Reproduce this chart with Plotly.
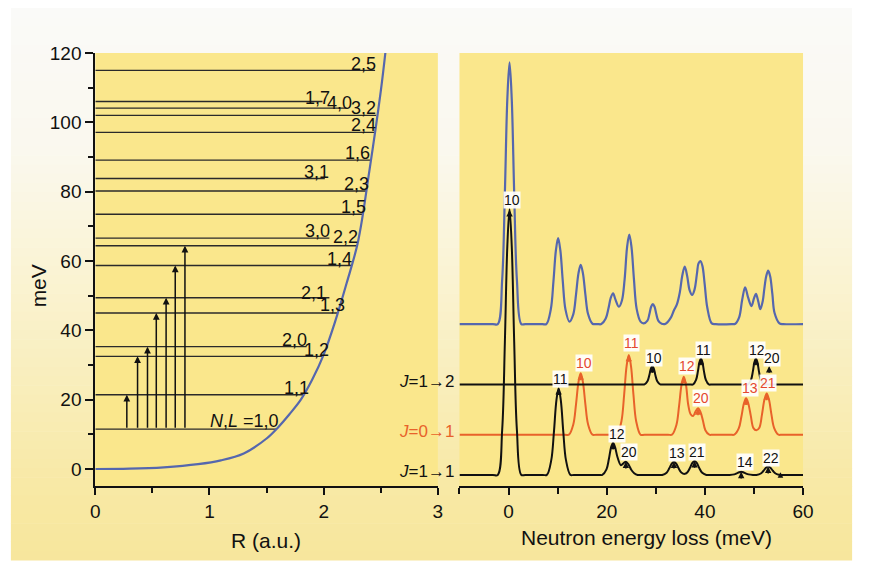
import plotly.graph_objects as go

# ---------------- Left panel data ----------------
level_labels = ["<i>N</i>,<i>L</i> =1,0", "1,1", "1,2", "2,0", "1,3", "2,1", "1,4", "2,2", "3,0",
                "1,5", "2,3", "3,1", "1,6", "2,4", "3,2", "4,0", "1,7", "2,5"]
level_energy = [11.5, 21.4, 32.5, 35.3, 45.0, 49.4, 58.7, 64.4, 66.6,
                73.5, 80.2, 83.8, 89.1, 97.1, 102.0, 104.1, 106.0, 115.0]
level_rmax = [1.59, 1.82, 1.99, 1.85, 2.12, 2.05, 2.24, 2.29, 2.05,
              2.34, 2.37, 2.01, 2.41, 2.45, 2.46, 2.20, 1.99, 2.45]
label_r = [1.304, 1.765, 1.937, 1.741, 2.073, 1.914, 2.138, 2.188, 1.944,
           2.259, 2.289, 1.937, 2.297, 2.345, 2.345, 2.138, 1.948, 2.345]
label_e = [13.9, 23.4, 34.3, 37.2, 47.3, 50.8, 60.6, 66.8, 68.7,
           75.6, 82.3, 85.7, 91.2, 99.3, 104.2, 105.6, 107.1, 116.9]

pot_r = [0, 0.3, 0.6, 0.9, 1.1, 1.3, 1.5, 1.6, 1.7, 1.8, 1.9, 2.0, 2.1, 2.2, 2.3, 2.4, 2.5, 2.54]
pot_v = [0, 0.1, 0.5, 1.4, 2.5, 4.5, 8.8, 12.0, 15.8, 20.0, 25.8, 33.0, 42.5, 53.5, 65.5, 86.0, 109.0, 120.0]

arrow_r = [0.276, 0.37, 0.457, 0.534, 0.62, 0.70, 0.785]
arrow_top = [21.4, 32.5, 35.3, 45.0, 49.4, 58.7, 64.4]
arrow_base = 11.5

# ---------------- Right panel data ----------------
blue_x = [-10, -3.2, -2.2, -1.3, -0.75, -0.25, 0.2, 0.65, 1.15, 1.7, 2.6, 3.4,
          6.9, 7.7, 8.6, 9.15, 9.65, 10.1, 10.55, 11.05, 11.6, 12.4,
          13.2, 13.75, 14.25, 14.7, 15.15, 15.65, 16.2, 17.1, 17.9,
          18.2, 18.9, 19.8, 20.35, 20.85, 21.3, 21.75, 22.5, 23.1, 23.65, 24.15, 24.6, 25.05, 25.55, 26.1, 26.9, 27.5,
          28.3, 28.7, 29.05, 29.4, 29.75, 30.1, 30.5, 31.2, 32.0,
          33.0, 33.7, 34.3, 34.9, 35.4, 35.9, 36.4, 36.9, 37.4, 37.9, 38.4, 38.7, 39.1, 39.5, 39.95, 40.5, 41.4, 42.2,
          45.4, 46.2, 47.0, 47.6, 48.2, 48.8, 49.5, 50.0, 50.4, 50.85, 51.3, 51.8, 52.1, 52.5, 52.9, 53.3, 53.75, 54.2, 55.2, 56.0, 60]
blue_y = [41.8, 41.8, 41.8, 54.6, 79.6, 106.7, 117.3, 106.7, 79.6, 54.6, 41.8, 41.8,
          41.8, 41.8, 46.0, 54.2, 63.1, 66.6, 63.1, 54.2, 46.0, 42.5,
          44.7, 50.4, 56.5, 58.9, 56.5, 50.4, 44.7, 41.9, 41.8,
          41.8, 41.8, 43.4, 46.3, 49.5, 50.7, 49.0, 46.8, 48.6, 54.7, 64.0, 67.6, 64.0, 54.7, 46.2, 42.5, 42.0,
          42.8, 44.7, 46.8, 47.6, 46.8, 44.7, 42.8, 41.9, 41.9,
          43.5, 45.8, 47.5, 51.0, 55.8, 58.4, 55.6, 51.5, 50.2, 51.8, 56.5, 59.3, 60.0, 58.6, 53.5, 46.5, 42.0, 41.8,
          41.8, 41.9, 43.8, 48.8, 52.4, 49.5, 47.0, 49.2, 50.5, 48.5, 46.1, 48.5, 51.8, 55.6, 57.2, 55.6, 50.5, 45.0, 42.0, 41.8, 41.8]

j01_x = [-10, 11.5, 12.3, 13.2, 13.75, 14.25, 14.7, 15.15, 15.65, 16.2, 17.1, 17.9,
         21.3, 22.1, 23.0, 23.55, 24.05, 24.5, 24.95, 25.45, 26.0, 26.9, 27.7,
         32.5, 33.3, 34.2, 34.75, 35.25, 35.7, 36.15, 36.6, 37.1, 37.6, 38.1, 38.6, 39.1, 39.6, 40.1, 40.9, 41.6,
         45.2, 46.0, 46.9, 47.45, 47.95, 48.4, 48.85, 49.35, 49.9, 50.5, 51.1, 51.65, 52.15, 52.6, 53.05, 53.55, 54.1, 55.0, 55.7, 60]
j01_y = [9.9, 9.9, 9.9, 12.9, 18.75, 25.1, 27.6, 25.1, 18.75, 12.9, 9.9, 9.9,
         9.9, 9.9, 13.8, 21.4, 29.7, 32.9, 29.7, 21.4, 13.8, 9.9, 9.9,
         9.9, 9.9, 12.7, 18.25, 24.3, 26.6, 24.3, 18.6, 15.8, 15.3, 16.6, 17.5, 16.5, 14.0, 11.2, 9.9, 9.9,
         9.9, 9.9, 11.7, 15.15, 18.9, 20.4, 18.9, 15.4, 11.8, 11.2, 11.9, 15.85, 20.1, 21.8, 20.1, 15.85, 11.9, 9.9, 9.9, 9.9]

j12_x = [-10, 27.0, 27.7, 28.3, 28.68, 29.0, 29.3, 29.6, 29.92, 30.3, 30.9, 31.6,
         36.9, 37.6, 38.2, 38.58, 38.9, 39.2, 39.5, 39.82, 40.2, 40.8, 41.5,
         48.1, 48.8, 49.4, 49.78, 50.1, 50.4, 50.7, 51.02, 51.4, 52.0, 52.7, 60]
j12_y = [24.4, 24.4, 24.4, 25.3, 27.05, 28.95, 29.7, 28.95, 27.05, 25.3, 24.4, 24.4,
         24.4, 24.4, 25.7, 28.15, 30.85, 31.9, 30.85, 28.15, 25.7, 24.4, 24.4,
         24.4, 24.4, 25.7, 28.15, 30.85, 31.9, 30.85, 28.15, 25.7, 24.4, 24.4, 24.4]

j11_x = [-10, -3.2, -2.2, -1.3, -0.75, -0.25, 0.2, 0.65, 1.15, 1.7, 2.6, 3.4,
         7.0, 7.8, 8.7, 9.25, 9.75, 10.2, 10.65, 11.15, 11.7, 12.6, 13.3,
         18.4, 19.1, 19.95, 20.45, 20.9, 21.3, 21.7, 22.2, 22.9, 23.45, 23.9, 24.4, 25.0, 25.6, 26.3, 27.0,
         30.6, 31.3, 32.2, 32.75, 33.25, 33.7, 34.15, 34.65, 35.2, 35.9, 36.4, 36.95, 37.45, 37.9, 38.35, 38.85, 39.4, 40.3, 41.0,
         44.3, 45.0, 46.0, 46.5, 47.0, 47.4, 47.8, 48.3, 48.9, 49.8, 50.5,
         51.4, 51.95, 52.45, 52.9, 53.35, 53.85, 54.4, 55.3, 56.0, 60]
j11_y = [-1.7, -1.7, -1.7, 11.3, 36.65, 64.3, 75.0, 64.3, 36.65, 11.3, -1.7, -1.7,
         -1.7, -1.7, 2.55, 10.8, 19.8, 23.3, 19.8, 10.8, 2.55, -1.7, -1.7,
         -1.7, -1.7, -0.1, 2.95, 6.3, 7.6, 6.3, 3.4, 1.1, 1.7, 2.1, 1.4, -0.2, -1.2, -1.7, -1.7,
         -1.7, -1.7, -1.05, 0.2, 1.57, 2.1, 1.57, 0.2, -1.0, -1.4, -1.0, 0.3, 1.74, 2.3, 1.74, 0.3, -1.02, -1.7, -1.7,
         -1.7, -1.7, -1.55, -1.25, -0.93, -0.8, -0.93, -1.25, -1.55, -1.7, -1.7,
         -1.3, -0.5, 0.36, 0.7, 0.36, -0.5, -1.3, -1.7, -1.7, -1.7]

# peak labels: text, arrow tip x, arrow tip y, label x, label y
black_text = ["10", "11", "12", "20", "13", "21", "14", "22", "10", "11", "12", "20"]
black_tipx = [0.2, 10.2, 21.3, 23.9, 33.7, 37.9, 47.4, 52.9, 29.3, 39.2, 50.4, 53.1]
black_tipy = [74.7, 23.3, 7.6, 2.1, 2.1, 2.3, -0.8, 0.7, 29.7, 31.9, 31.9, 29.7]
black_labx = [0.7, 10.6, 22.0, 24.5, 34.3, 38.3, 48.1, 53.4, 29.7, 39.7, 50.6, 53.7]
black_laby = [77.6, 26.0, 10.2, 4.8, 4.6, 4.8, 2.0, 3.2, 32.1, 34.3, 34.3, 32.1]

orange_text = ["10", "11", "12", "20", "13", "21"]
orange_tipx = [14.7, 24.5, 35.7, 38.6, 48.4, 52.6]
orange_tipy = [27.6, 32.9, 26.6, 17.5, 20.4, 21.8]
orange_labx = [15.4, 25.1, 36.4, 39.3, 49.1, 52.9]
orange_laby = [30.5, 36.3, 29.7, 20.4, 23.3, 24.7]

small_tip = (55.4, -0.9)

series_names = ["<i>J</i>=1→2", "<i>J</i>=0→1", "<i>J</i>=1→1"]
series_name_y = [25.2, 10.8, -0.8]

# ---------------- Styling ----------------
W, H = 869, 566
TOP, BOT = 53, 486
FONT = "Liberation Sans, Arial, Helvetica, sans-serif"
NARROW = "Liberation Sans Narrow, Arial Narrow, Liberation Sans, Arial, sans-serif"
BLUE = "#5567AE"
ORANGE = "#E8622A"
ORANGE_TXT = "#E4482F"
BLACK = "#111111"
PLOT_YELLOW = "#FAE78C"


def pxx(px):
    return px / W


def pxy(py):
    return (BOT - py) / (BOT - TOP)


left_dom = [pxx(92), pxx(441)]
right_dom = [pxx(463), pxx(813)]

fig = go.Figure()

# energy levels
lx, ly = [], []
for e, rm in zip(level_energy, level_rmax):
    lx += [0, rm, None]
    ly += [e, e, None]
fig.add_trace(go.Scatter(x=lx, y=ly, mode="lines", line=dict(color="#2a2a2a", width=1.4),
                         xaxis="x", yaxis="y", showlegend=False, hoverinfo="skip"))
# potential
fig.add_trace(go.Scatter(x=pot_r, y=pot_v, mode="lines", line=dict(color=BLUE, width=2.2, shape="spline"),
                         xaxis="x", yaxis="y", showlegend=False, hoverinfo="skip"))

# spectra
fig.add_trace(go.Scatter(x=blue_x, y=blue_y, mode="lines", line=dict(color=BLUE, width=2.2, shape="spline"),
                         xaxis="x2", yaxis="y2", showlegend=False, hoverinfo="skip"))
fig.add_trace(go.Scatter(x=j01_x, y=j01_y, mode="lines", line=dict(color=ORANGE, width=2, shape="spline"),
                         xaxis="x2", yaxis="y2", showlegend=False, hoverinfo="skip"))
fig.add_trace(go.Scatter(x=j12_x, y=j12_y, mode="lines", line=dict(color=BLACK, width=2, shape="spline"),
                         xaxis="x2", yaxis="y2", showlegend=False, hoverinfo="skip"))
fig.add_trace(go.Scatter(x=j11_x, y=j11_y, mode="lines", line=dict(color=BLACK, width=2, shape="spline"),
                         xaxis="x2", yaxis="y2", showlegend=False, hoverinfo="skip"))

annotations = []
# level labels
for t, r, e in zip(level_labels, label_r, label_e):
    annotations.append(dict(x=r, y=e, xref="x", yref="y", text=t, showarrow=False,
                            xanchor="center", yanchor="middle",
                            font=dict(family=FONT, size=18, color=BLACK)))
# transition arrows (left)
for r, top in zip(arrow_r, arrow_top):
    annotations.append(dict(x=r, y=top, ax=r, ay=arrow_base, xref="x", yref="y", axref="x", ayref="y",
                            text="", showarrow=True, arrowhead=2, arrowsize=0.9, arrowwidth=1.5,
                            arrowcolor=BLACK, standoff=0))


def peak_marks(texts, tx, ty, lx_, ly_, arrow_col, text_col):
    for t, x, y, a, b in zip(texts, tx, ty, lx_, ly_):
        annotations.append(dict(x=x, y=y, ax=x, ay=y - 2.4, xref="x2", yref="y2", axref="x2", ayref="y2",
                                text="", showarrow=True, arrowhead=2, arrowsize=0.85, arrowwidth=1.5,
                                arrowcolor=arrow_col, standoff=0))
        annotations.append(dict(x=a, y=b, xref="x2", yref="y2", text=t, showarrow=False,
                                xanchor="center", yanchor="middle", bgcolor="rgba(255,255,255,0.92)",
                                borderpad=0, font=dict(family=NARROW, size=14, color=text_col)))


peak_marks(black_text, black_tipx, black_tipy, black_labx, black_laby, BLACK, BLACK)
peak_marks(orange_text, orange_tipx, orange_tipy, orange_labx, orange_laby, ORANGE, ORANGE_TXT)
annotations.append(dict(x=small_tip[0], y=small_tip[1], ax=small_tip[0], ay=small_tip[1] - 1.2,
                        xref="x2", yref="y2", axref="x2", ayref="y2", text="", showarrow=True,
                        arrowhead=2, arrowsize=0.8, arrowwidth=1.4, arrowcolor=BLACK, standoff=0))

# series names
for t, y, c in zip(series_names, series_name_y, [BLACK, ORANGE, BLACK]):
    annotations.append(dict(x=pxx(459), y=y, xref="paper", yref="y2", text=t, showarrow=False,
                            xanchor="right", yanchor="middle", font=dict(family=FONT, size=17, color=c)))

# axis titles
annotations.append(dict(x=pxx(34), y=pxy(286), xref="paper", yref="paper", text="meV", textangle=-90,
                        xanchor="center", yanchor="middle",
                        showarrow=False, font=dict(family=FONT, size=21, color=BLACK)))
annotations.append(dict(x=pxx(266), y=pxy(540), xref="paper", yref="paper", text="R (a.u.)",
                        xanchor="center", yanchor="middle",
                        showarrow=False, font=dict(family=FONT, size=21, color=BLACK)))
annotations.append(dict(x=pxx(654), y=pxy(537), xref="paper", yref="paper", text="Neutron energy loss (meV)",
                        xanchor="center", yanchor="middle",
                        showarrow=False, font=dict(family=FONT, size=21, color=BLACK)))

# background: soft vertical gradient panel + yellow plot areas
stops = [(8, (250, 250, 248)), (150, (250, 248, 238)), (260, (250, 244, 214)),
         (380, (249, 238, 188)), (480, (248, 233, 166)), (560, (247, 230, 156))]
shapes = []
nb = 60
y0, y1 = 8, 560
for i in range(nb):
    a = y0 + (y1 - y0) * i / nb
    b = y0 + (y1 - y0) * (i + 1) / nb
    m = (a + b) / 2
    for k in range(len(stops) - 1):
        if stops[k][0] <= m <= stops[k + 1][0]:
            f = (m - stops[k][0]) / (stops[k + 1][0] - stops[k][0])
            c = [round(stops[k][1][j] + f * (stops[k + 1][1][j] - stops[k][1][j])) for j in range(3)]
            break
    shapes.append(dict(type="rect", xref="paper", yref="paper", x0=pxx(6), x1=pxx(863),
                       y0=pxy(b + 0.5), y1=pxy(a), line=dict(width=0),
                       fillcolor="rgb(%d,%d,%d)" % tuple(c), layer="below"))
for dom in (left_dom, right_dom):
    shapes.append(dict(type="rect", xref="paper", yref="paper", x0=dom[0], x1=dom[1], y0=0, y1=1,
                       line=dict(width=0), fillcolor=PLOT_YELLOW, layer="below"))

tickfont = dict(family=FONT, size=19, color=BLACK)
fig.update_layout(
    width=W, height=H,
    margin=dict(l=0, r=0, t=TOP, b=H - BOT, pad=0),
    paper_bgcolor="white", plot_bgcolor="rgba(0,0,0,0)",
    showlegend=False, hovermode=False,
    annotations=annotations, shapes=shapes,
    xaxis=dict(domain=left_dom, range=[0, 3], anchor="y", showgrid=False, zeroline=False,
               showline=True, linecolor=BLACK, linewidth=2, ticks="outside", ticklen=7, tickwidth=2,
               tickcolor=BLACK, tickvals=[0, 1, 2, 3], tickfont=tickfont,
               minor=dict(tickvals=[0.5, 1.5, 2.5], ticks="outside", ticklen=5, tickwidth=2, tickcolor=BLACK)),
    yaxis=dict(domain=[0, 1], range=[-4.9, 120], anchor="x", showgrid=False, zeroline=False,
               showline=True, linecolor=BLACK, linewidth=2, ticks="outside", ticklen=8, tickwidth=2,
               tickcolor=BLACK, tickvals=[0, 20, 40, 60, 80, 100, 120], tickfont=tickfont,
               minor=dict(tickvals=[10, 30, 50, 70, 90, 110], ticks="outside", ticklen=5, tickwidth=2,
                          tickcolor=BLACK)),
    xaxis2=dict(domain=right_dom, range=[-10, 60], anchor="y2", showgrid=False, zeroline=False,
                showline=True, linecolor=BLACK, linewidth=2, ticks="outside", ticklen=7, tickwidth=2,
                tickcolor=BLACK, tickvals=[0, 20, 40, 60], tickfont=tickfont,
                minor=dict(tickvals=[-10, 10, 30, 50], ticks="outside", ticklen=6, tickwidth=2,
                           tickcolor=BLACK)),
    yaxis2=dict(domain=[0, 1], range=[-4.9, 120], anchor="x2", visible=False),
)

fig.write_html("out.html", config={"displayModeBar": False},
               post_script="document.body.style.margin='0px';document.body.style.overflow='hidden';")
